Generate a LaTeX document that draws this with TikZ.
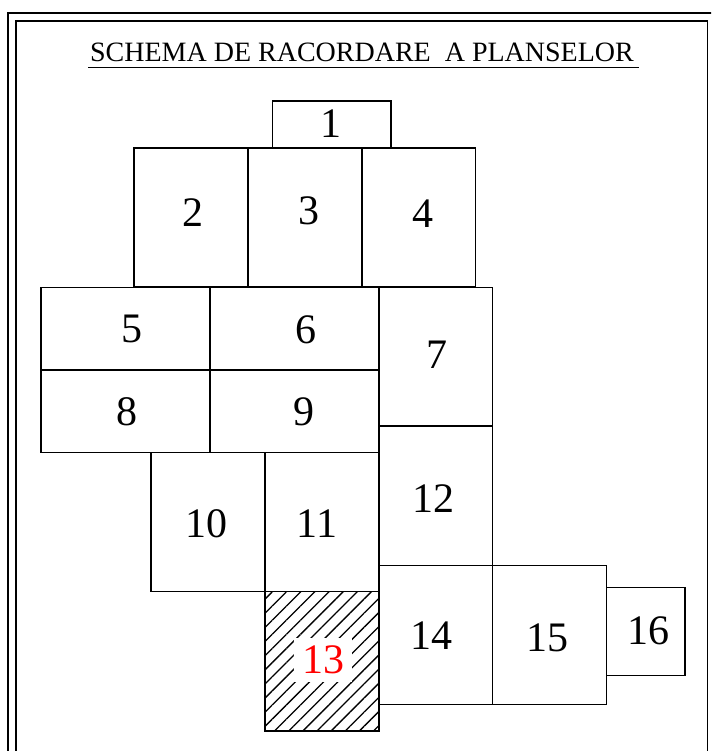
\documentclass[tikz,border=0pt]{standalone}
\usepackage{fontspec}
\setmainfont{Liberation Serif}
\usetikzlibrary{positioning, patterns.meta}

\begin{document}
\begin{tikzpicture}[x=1pt, y=-1pt]
\tikzstyle{sheet}=[rectangle, draw, line width=1.5pt, inner sep=0pt,
  outer sep=0pt, minimum width=114pt, minimum height=139pt]
\tikzstyle{wide}=[sheet, minimum width=169pt, minimum height=82.5pt]
\tikzstyle{nr}=[inner sep=0pt, font=\fontsize{42}{42}\selectfont]
\tikzstyle{frame}=[line width=1.8pt]

\clip (0,0) rectangle (711,751);

% double frame
\draw[frame] (7.8,12.8) rectangle (720,770);
\draw[frame] (15.8,20.8) rectangle (707.5,770);

% title
\node (title) [inner sep=0pt, anchor=base, font=\fontsize{28}{28}\selectfont]
  at (362,61.7) {SCHEMA DE RACORDARE\ \ A PLANSELOR};
\draw[line width=1.5pt] ([xshift=-1.5pt,yshift=-6pt]title.base west)
  -- ([xshift=5pt,yshift=-6pt]title.base east);

% sheets
\node (s1) [sheet, minimum width=118.5pt, minimum height=47pt] at (331.75,124.5) {};
\node (s2) [sheet] at (191,217.5) {};
\node (s3) [sheet, right=0pt of s2] {};
\node (s4) [sheet, right=0pt of s3, minimum width=113.5pt] {};
\node (s5) [wide] at (125.5,328.75) {};
\node (s6) [wide, right=0pt of s5] {};
\node (s8) [wide, below=0pt of s5] {};
\node (s9) [wide, right=0pt of s8] {};
\node (s7) [sheet, anchor=north west, minimum width=113.5pt,
  minimum height=138.5pt] at (s6.north east) {};
\node (s12) [sheet, below=0pt of s7, minimum width=113.5pt,
  minimum height=139.5pt] {};
\node (s10) [sheet, anchor=north west] at (151,452.5) {};
\node (s11) [sheet, right=0pt of s10] {};
\node (s13) [sheet, below=0pt of s11, minimum height=139.5pt,
  pattern={Lines[angle=45, distance=10pt, line width=1.3pt]}] {};
\node (s14) [sheet, anchor=north west, minimum width=113.5pt] at (s12.south west) {};
\node (s15) [sheet, right=0pt of s14] {};
\node (s16) [sheet, right=0pt of s15, yshift=3.5pt, minimum width=78.5pt,
  minimum height=88pt] {};

% numbers
\foreach \n/\x/\y in {1/330.5/124, 2/193/212.5, 3/308.5/210.5, 4/422.5/213.5,
  5/132/329, 6/306/330, 7/436.7/354.5, 8/127/411.7, 9/303.5/411.7,
  10/206/523.5, 11/317/523.5, 12/433/498.5, 14/431.7/636, 15/547.5/638.3,
  16/648/631}
  \node (n\n) [nr] at (\x,\y) {\n};
\node (n13) [nr, fill=white, inner sep=8pt, text=red] at (323,660) {13};
\end{tikzpicture}
\end{document}
